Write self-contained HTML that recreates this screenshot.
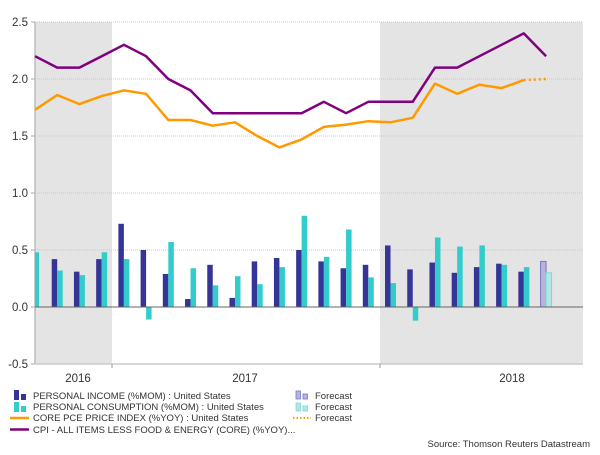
<!DOCTYPE html>
<html><head><meta charset="utf-8"><style>
body{margin:0;background:#fff;font-family:"Liberation Sans",sans-serif;}
svg text{font-family:"Liberation Sans",sans-serif;}
</style></head><body>
<svg id="chart" width="600" height="450" xmlns="http://www.w3.org/2000/svg"></svg>
<script>
const months = ["Jan16","Feb16","Mar16","Apr16","May16","Jun16","Jul16","Aug16","Sep16","Oct16","Nov16","Dec16","Jan17","Feb17","Mar17","Apr17","May17","Jun17","Jul17","Aug17","Sep17","Oct17","Nov17","Dec17"];
const cpiCore = [2.2,2.1,2.1,2.2,2.3,2.2,2.0,1.9,1.7,1.7,1.7,1.7,1.7,1.8,1.7,1.8,1.8,1.8,2.1,2.1,2.2,2.3,2.4,2.2];
const corePce = [1.73,1.86,1.78,1.85,1.90,1.87,1.64,1.64,1.59,1.62,1.50,1.40,1.47,1.58,1.60,1.63,1.62,1.66,1.96,1.87,1.95,1.92,1.99,null];
const corePceForecast = [null,null,null,null,null,null,null,null,null,null,null,null,null,null,null,null,null,null,null,null,null,null,1.99,2.0];
const income = [null,0.42,0.31,0.42,0.73,0.50,0.29,0.07,0.37,0.08,0.40,0.43,0.50,0.40,0.34,0.37,0.54,0.33,0.39,0.30,0.35,0.38,0.31,0.40];
const consumption = [0.48,0.32,0.28,0.48,0.42,-0.11,0.57,0.34,0.19,0.27,0.20,0.35,0.80,0.44,0.68,0.26,0.21,-0.12,0.61,0.53,0.54,0.37,0.35,0.30];
const forecastIdx = 23;
const yTicks = [2.5,2.0,1.5,1.0,0.5,0.0,-0.5];
const yTickLabels = ["2.5","2.0","1.5","1.0","0.5","0.0","-0.5"];
const years = ["2016","2017","2018"];

const NS="http://www.w3.org/2000/svg";
const svg=document.getElementById('chart');
const L=35,R=583,T=22,B=364;
const y=v=>307-(v)*114;
const x=i=>35+i*22.22;
function el(tag,attrs,parent){const e=document.createElementNS(NS,tag);for(const k in attrs)e.setAttribute(k,attrs[k]);(parent||svg).appendChild(e);return e;}

// shading
let s1=el('rect',{x:L,y:T,width:112-L,height:B-T,fill:'#e4e4e4'});


let s2=el('rect',{x:380,y:T,width:R-380,height:B-T,fill:'#e4e4e4'});



// grid & y ticks
yTicks.forEach((v,k)=>{
  if(v!==0&&v!==-0.5){const g=el('line',{x1:L,x2:R,y1:y(v),y2:y(v),stroke:'#c8c8c8','stroke-dasharray':'1,1'});
  
  }
  const t=el('text',{x:28,y:y(v)+4,'text-anchor':'end','font-size':'11.5',fill:'#333'});
  t.textContent=yTickLabels[k];
  
  
  el('line',{x1:31,x2:35,y1:y(v),y2:y(v),stroke:'#aaa'});
});
let ya=el('line',{x1:L,x2:L,y1:T,y2:B,stroke:'#bbb','stroke-width':'1.5'});


let xa=el('line',{x1:L,x2:R,y1:B,y2:B,stroke:'#ccc','stroke-width':'1.5'});


el('line',{x1:112,x2:112,y1:B,y2:B+4,stroke:'#999'});
el('line',{x1:380,x2:380,y1:B,y2:B+4,stroke:'#999'});
const yearX=[78,245,512];
years.forEach((yr,k)=>{const t=el('text',{x:yearX[k],y:382,'text-anchor':'middle','font-size':'11.5',fill:'#333'});t.textContent=yr;

});

// bars
const bw=5.5;
income.forEach((v,i)=>{if(v==null)return;const f=i===forecastIdx;
  const b=el('rect',{x:x(i)-bw,y:Math.min(y(v),y(0)),width:bw,height:Math.abs(y(v)-y(0)),fill:f?'#b7b4dc':'#353597',stroke:f?'#7a78c0':'none','stroke-width':f?1:0});
  
  });
consumption.forEach((v,i)=>{if(v==null)return;const f=i===forecastIdx;
  const x0=i===0?L:x(i);const w=i===0?bw-1.5:bw;
  const b=el('rect',{x:x0,y:Math.min(y(v),y(0)),width:w,height:Math.abs(y(v)-y(0)),fill:f?'#b4e6e6':'#33cccc',stroke:f?'#7fd8d8':'none','stroke-width':f?1:0});
  
  });
let zl=el('line',{x1:L,x2:R,y1:y(0),y2:y(0),stroke:'#666','stroke-width':'1'});



function path(arr){let d='';arr.forEach((v,i)=>{if(v==null)return;d+=(d?'L':'M')+x(i).toFixed(1)+','+y(v).toFixed(1);});return d;}
let pce=el('path',{d:path(corePce),fill:'none',stroke:'#ff9900','stroke-width':'2.5','stroke-linejoin':'round'});


let pcef=el('path',{d:path(corePceForecast),fill:'none',stroke:'#ff9900','stroke-width':'2.5','stroke-dasharray':'2,3'});


let cpi=el('path',{d:path(cpiCore),fill:'none',stroke:'#800080','stroke-width':'2.5','stroke-linejoin':'round'});



// legend
function ltext(tx,ty,str,name){const t=el('text',{x:tx,y:ty,'font-size':'9.5',fill:'#333'});t.textContent=str;

}
el('rect',{x:14,y:390,width:5,height:10,fill:'#353597'});el('rect',{x:21,y:394,width:5,height:6,fill:'#353597'});
ltext(33,399,'PERSONAL INCOME (%MOM) : United States','legend-income');
el('rect',{x:14,y:402,width:5,height:10,fill:'#33cccc'});el('rect',{x:21,y:406,width:5,height:6,fill:'#33cccc'});
ltext(33,410,'PERSONAL CONSUMPTION (%MOM) : United States','legend-consumption');
el('line',{x1:10,x2:29,y1:418,y2:418,stroke:'#ff9900','stroke-width':'2.5'});
ltext(33,421,'CORE PCE PRICE INDEX (%YOY) : United States','legend-core-pce');
el('line',{x1:10,x2:29,y1:429.5,y2:429.5,stroke:'#800080','stroke-width':'2.5'});
ltext(33,433,'CPI - ALL ITEMS LESS FOOD & ENERGY (CORE) (%YOY)...','legend-cpi');
el('rect',{x:296,y:391,width:4.5,height:8,fill:'#b7b4dc',stroke:'#7a78c0','stroke-width':'0.8'});el('rect',{x:303,y:394,width:4.5,height:5,fill:'#b7b4dc',stroke:'#7a78c0','stroke-width':'0.8'});
ltext(315,399,'Forecast','legend-income-forecast');
el('rect',{x:296,y:403,width:4.5,height:8,fill:'#b4e6e6',stroke:'#7fd8d8','stroke-width':'0.8'});el('rect',{x:303,y:406,width:4.5,height:5,fill:'#b4e6e6',stroke:'#7fd8d8','stroke-width':'0.8'});
ltext(315,410,'Forecast','legend-consumption-forecast');
el('line',{x1:293,x2:311,y1:418,y2:418,stroke:'#ff9900','stroke-width':'2','stroke-dasharray':'1.5,2'});
ltext(315,421,'Forecast','legend-pce-forecast');
const src=el('text',{x:590,y:447,'text-anchor':'end','font-size':'9.5',fill:'#333'});src.textContent='Source: Thomson Reuters Datastream';


</script>
</body></html>
